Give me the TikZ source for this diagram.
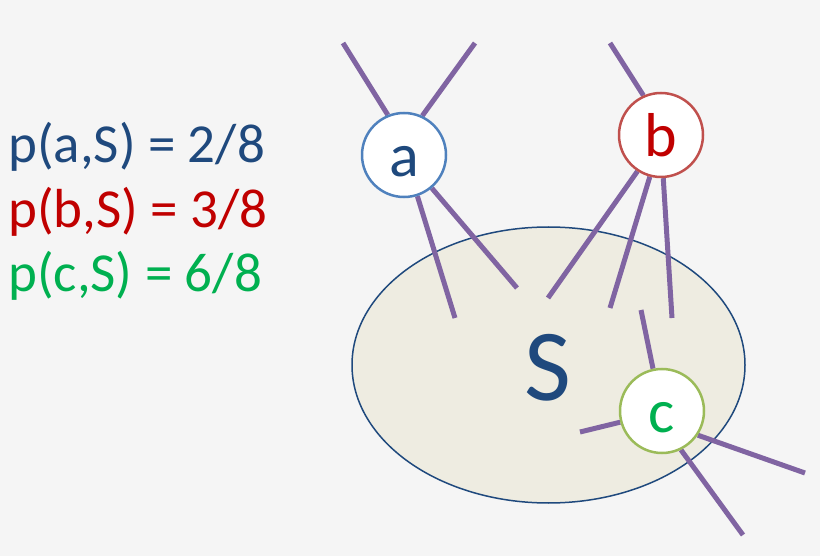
\documentclass[tikz,border=0pt]{standalone}
\usepackage{fontspec}
\setmainfont{Carlito}
\usetikzlibrary{shapes.geometric,backgrounds}
\definecolor{bg}{HTML}{F5F5F5}
\definecolor{setfill}{HTML}{EEECE1}
\definecolor{dblue}{HTML}{1F497D}
\definecolor{ablue}{HTML}{4F81BD}
\definecolor{bred}{HTML}{C0504D}
\definecolor{tred}{HTML}{C00000}
\definecolor{cgreen}{HTML}{9BBB59}
\definecolor{tgreen}{HTML}{00B050}
\definecolor{edgepurple}{HTML}{8064A2}
\tikzset{
  elem/.style={circle, fill=white, line width=2.5pt, minimum size=84pt, inner sep=0pt,
    font=\fontsize{62}{62}\selectfont},
  edge/.style={draw=edgepurple, line width=5pt},
  prob/.style={anchor=base west, inner sep=0pt, font=\fontsize{55}{55}\selectfont}
}
\begin{document}
\begin{tikzpicture}[x=1pt,y=-1pt]
\useasboundingbox (0,0) rectangle (820,556);
% nodes
\node[elem, draw=ablue, text=dblue] (a) at (404,155) {\vphantom{b}a};
\node[elem, draw=bred, text=tred] (b) at (661,135) {b};
\node[elem, draw=cgreen, text=tgreen] (c) at (662,411) {\vphantom{b}c};
% free ends
\coordinate (a1) at (343,43);
\coordinate (a2) at (475,43);
\coordinate (a3) at (455,318);
\coordinate (a4) at (517,288);
\coordinate (b1) at (610,43);
\coordinate (b2) at (548,298);
\coordinate (b3) at (610,308);
\coordinate (b4) at (672,318);
\coordinate (c1) at (641,310);
\coordinate (c2) at (580,432);
\coordinate (c3) at (805,473);
\coordinate (c4) at (743,535);
\begin{scope}[on background layer]
  \fill[bg] (0,0) rectangle (820,556);
  \node[ellipse, draw=dblue, line width=1.5pt, fill=setfill,
        minimum width=393pt, minimum height=276pt, inner sep=0pt] (set) at (548.5,365) {};
  \draw[edge] (a1) -- (a.112);
  \draw[edge] (a2) -- (a.65);
  \draw[edge] (a3) -- (a.288);
  \draw[edge] (a4) -- (a.310);
  \draw[edge] (b1) -- (b.114);
  \draw[edge] (b2) -- (b.237);
  \draw[edge] (b3) -- (b.255);
  \draw[edge] (b4) -- (b.273);
  \draw[edge] (c1) -- (c.102);
  \draw[edge] (c2) -- (c.195);
  \draw[edge] (c3) -- (c.326);
  \draw[edge] (c4) -- (c.296);
\end{scope}
\node[text=dblue, font=\fontsize{102}{102}\selectfont, inner sep=0pt] (S) at (548,368) {S};
\node[prob, text=dblue] (pa) at (8,163) {p(a,S) = 2/8};
\node[prob, text=tred] (pb) at (8,228) {p(b,S) = 3/8};
\node[prob, text=tgreen] (pc) at (8,292) {p(c,S) = 6/8};
\end{tikzpicture}
\end{document}
